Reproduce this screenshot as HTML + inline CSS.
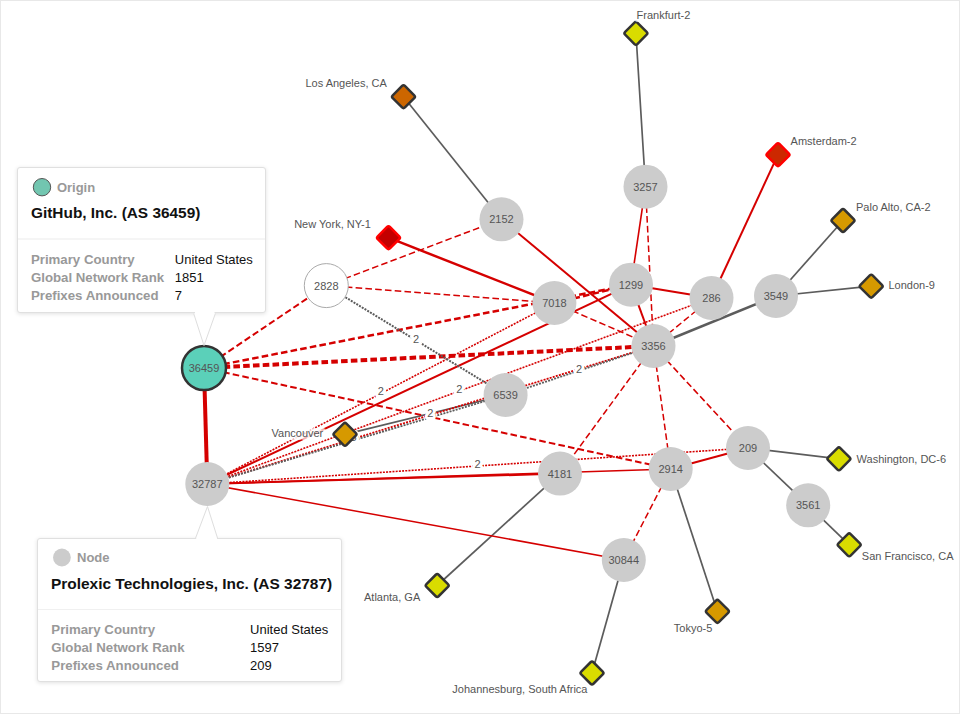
<!DOCTYPE html>
<html><head><meta charset="utf-8"><style>
html,body{margin:0;padding:0;background:#fff;}
body{width:960px;height:714px;overflow:hidden;position:relative;font-family:"Liberation Sans",sans-serif;}
.frame{position:absolute;left:0;top:0;width:958px;height:712px;border:1px solid #e8e8e8;}
svg{position:absolute;left:0;top:0;}
.tip{position:absolute;box-sizing:border-box;background:#fff;border:1px solid #e0e0e0;border-radius:3px;box-shadow:0 1px 4px rgba(0,0,0,0.12);}
.tip .t{position:absolute;white-space:nowrap;line-height:1;}
.k{font-weight:bold;color:#999;font-size:13px;}
.v{color:#111;font-size:13px;}
.h{font-weight:bold;color:#111;font-size:15.3px;}
.sep{position:absolute;left:0;right:0;height:1px;background:#ececec;}
</style></head><body>
<div class="frame"></div>
<svg width="960" height="714" viewBox="0 0 960 714">

<g fill="none" stroke-linecap="butt">
<line x1="635.9" y1="33.3" x2="645.5" y2="186.7" stroke="#5c5c5c" stroke-width="1.7"/>
<line x1="403.5" y1="96.7" x2="501.5" y2="219.3" stroke="#5c5c5c" stroke-width="1.7"/>
<line x1="843" y1="220.5" x2="776" y2="296" stroke="#5c5c5c" stroke-width="1.7"/>
<line x1="871.2" y1="286.2" x2="776" y2="296" stroke="#5c5c5c" stroke-width="1.7"/>
<line x1="776" y1="296" x2="653.5" y2="346" stroke="#5c5c5c" stroke-width="2.5"/>
<line x1="838.9" y1="458.8" x2="748" y2="448" stroke="#5c5c5c" stroke-width="1.7"/>
<line x1="748" y1="448" x2="808.2" y2="505.3" stroke="#5c5c5c" stroke-width="1.7"/>
<line x1="808.2" y1="505.3" x2="849.2" y2="544.8" stroke="#5c5c5c" stroke-width="1.7"/>
<line x1="560" y1="473.6" x2="437.2" y2="585.5" stroke="#5c5c5c" stroke-width="1.7"/>
<line x1="670.7" y1="469" x2="717.4" y2="611.4" stroke="#5c5c5c" stroke-width="1.7"/>
<line x1="623.8" y1="560" x2="592" y2="673" stroke="#5c5c5c" stroke-width="1.7"/>
<line x1="345" y1="434.3" x2="505.6" y2="395" stroke="#5c5c5c" stroke-width="1.7"/>
<line x1="204" y1="368" x2="207.3" y2="484" stroke="#d50000" stroke-width="4"/>
<line x1="388.5" y1="237.7" x2="554.4" y2="303" stroke="#d50000" stroke-width="2.5"/>
<line x1="778" y1="154.7" x2="711.5" y2="298" stroke="#d50000" stroke-width="2"/>
<line x1="501.5" y1="219.3" x2="653.5" y2="346" stroke="#d50000" stroke-width="2"/>
<line x1="645.5" y1="186.7" x2="631" y2="284.7" stroke="#d50000" stroke-width="1.6"/>
<line x1="631" y1="284.7" x2="653.5" y2="346" stroke="#d50000" stroke-width="2"/>
<line x1="631" y1="284.7" x2="711.5" y2="298" stroke="#d50000" stroke-width="2"/>
<line x1="207.3" y1="484" x2="631" y2="284.7" stroke="#d50000" stroke-width="2"/>
<line x1="207.3" y1="484" x2="560" y2="473.6" stroke="#d50000" stroke-width="2"/>
<line x1="207.3" y1="484" x2="670.7" y2="469" stroke="#d50000" stroke-width="1.7"/>
<line x1="670.7" y1="469" x2="748" y2="448" stroke="#d50000" stroke-width="2"/>
<line x1="207.3" y1="484" x2="623.8" y2="560" stroke="#d50000" stroke-width="1.5"/>
<line x1="204" y1="368" x2="326.3" y2="285.6" stroke="#d50000" stroke-width="2" stroke-dasharray="6.6,3.2"/>
<line x1="326.3" y1="285.6" x2="501.5" y2="219.3" stroke="#d50000" stroke-width="1.5" stroke-dasharray="6.6,3.2"/>
<line x1="326.3" y1="285.6" x2="554.4" y2="303" stroke="#d50000" stroke-width="1.5" stroke-dasharray="6.6,3.2"/>
<line x1="204" y1="368" x2="631" y2="284.7" stroke="#d50000" stroke-width="2.5" stroke-dasharray="6.6,3.2"/>
<line x1="554.4" y1="303" x2="631" y2="284.7" stroke="#d50000" stroke-width="2.5" stroke-dasharray="6.6,3.2"/>
<line x1="204" y1="368" x2="653.5" y2="346" stroke="#d50000" stroke-width="4" stroke-dasharray="6.6,3.2"/>
<line x1="204" y1="368" x2="670.7" y2="469" stroke="#d50000" stroke-width="2" stroke-dasharray="6.6,3.2"/>
<line x1="554.4" y1="303" x2="653.5" y2="346" stroke="#d50000" stroke-width="1.5" stroke-dasharray="6.6,3.2"/>
<line x1="645.5" y1="186.7" x2="653.5" y2="346" stroke="#d50000" stroke-width="1.5" stroke-dasharray="6.6,3.2"/>
<line x1="711.5" y1="298" x2="653.5" y2="346" stroke="#d50000" stroke-width="1.5" stroke-dasharray="6.6,3.2"/>
<line x1="653.5" y1="346" x2="560" y2="473.6" stroke="#d50000" stroke-width="1.5" stroke-dasharray="6.6,3.2"/>
<line x1="653.5" y1="346" x2="670.7" y2="469" stroke="#d50000" stroke-width="1.5" stroke-dasharray="6.6,3.2"/>
<line x1="653.5" y1="346" x2="748" y2="448" stroke="#d50000" stroke-width="1.6" stroke-dasharray="6.6,3.2"/>
<line x1="670.7" y1="469" x2="623.8" y2="560" stroke="#d50000" stroke-width="1.5" stroke-dasharray="6.6,3.2"/>
<line x1="207.3" y1="484" x2="554.4" y2="303" stroke="#d50000" stroke-width="1.6" stroke-dasharray="2,1.2"/>
<line x1="207.3" y1="484" x2="711.5" y2="298" stroke="#d50000" stroke-width="1.6" stroke-dasharray="2,1.2"/>
<line x1="207.3" y1="484" x2="748" y2="448" stroke="#d50000" stroke-width="1.6" stroke-dasharray="2,1.2"/>
<line x1="207.3" y1="484" x2="653.5" y2="346" stroke="#d50000" stroke-width="1.8" stroke-dasharray="2,1.2"/>
<line x1="207.3" y1="484" x2="505.6" y2="395" stroke="#5c5c5c" stroke-width="1.8" stroke-dasharray="2,1.2"/>
<line x1="505.6" y1="395" x2="653.5" y2="346" stroke="#5c5c5c" stroke-width="1.8" stroke-dasharray="2,1.2"/>
<line x1="326.3" y1="285.6" x2="505.6" y2="395" stroke="#5c5c5c" stroke-width="2" stroke-dasharray="2,1.2"/>
</g>
<g font-family="Liberation Sans, sans-serif" font-size="11" fill="#555" text-anchor="middle">
<text x="380.9" y="395.0" stroke="#fff" stroke-width="6" stroke-linejoin="round" paint-order="stroke">2</text>
<text x="459.4" y="392.5" stroke="#fff" stroke-width="6" stroke-linejoin="round" paint-order="stroke">2</text>
<text x="477.6" y="467.5" stroke="#fff" stroke-width="6" stroke-linejoin="round" paint-order="stroke">2</text>
<text x="430.4" y="416.5" stroke="#fff" stroke-width="6" stroke-linejoin="round" paint-order="stroke">2</text>
<text x="579.0" y="373.0" stroke="#fff" stroke-width="6" stroke-linejoin="round" paint-order="stroke">2</text>
<text x="416.0" y="343.1" stroke="#fff" stroke-width="6" stroke-linejoin="round" paint-order="stroke">2</text>
<text x="353.5" y="441.0" stroke="#fff" stroke-width="6" stroke-linejoin="round" paint-order="stroke">3</text>
</g>
<circle cx="204" cy="368" r="22" fill="#5bd0b9" stroke="#333" stroke-width="2.5"/>
<circle cx="207.3" cy="484" r="22" fill="#cccccc"/>
<circle cx="326.3" cy="285.6" r="22" fill="#fff" stroke="#aaa" stroke-width="1"/>
<circle cx="501.5" cy="219.3" r="22" fill="#cccccc"/>
<circle cx="554.4" cy="303" r="22" fill="#cccccc"/>
<circle cx="645.5" cy="186.7" r="22" fill="#cccccc"/>
<circle cx="631" cy="284.7" r="22" fill="#cccccc"/>
<circle cx="711.5" cy="298" r="22" fill="#cccccc"/>
<circle cx="653.5" cy="346" r="22" fill="#cccccc"/>
<circle cx="776" cy="296" r="22" fill="#cccccc"/>
<circle cx="505.6" cy="395" r="22" fill="#cccccc"/>
<circle cx="560" cy="473.6" r="22" fill="#cccccc"/>
<circle cx="670.7" cy="469" r="22" fill="#cccccc"/>
<circle cx="623.8" cy="560" r="22" fill="#cccccc"/>
<circle cx="748" cy="448" r="22" fill="#cccccc"/>
<circle cx="808.2" cy="505.3" r="22" fill="#cccccc"/>
<g font-family="Liberation Sans, sans-serif" font-size="11" fill="#555" text-anchor="middle">
<text x="204" y="372">36459</text>
<text x="207.3" y="488">32787</text>
<text x="326.3" y="289.6">2828</text>
<text x="501.5" y="223.3">2152</text>
<text x="554.4" y="307">7018</text>
<text x="645.5" y="190.7">3257</text>
<text x="631" y="288.7">1299</text>
<text x="711.5" y="302">286</text>
<text x="653.5" y="350">3356</text>
<text x="776" y="300">3549</text>
<text x="505.6" y="399">6539</text>
<text x="560" y="477.6">4181</text>
<text x="670.7" y="473">2914</text>
<text x="623.8" y="564">30844</text>
<text x="748" y="452">209</text>
<text x="808.2" y="509.3">3561</text>
</g>
<rect x="-8.6" y="-8.6" width="17.2" height="17.2" rx="2" transform="translate(635.9,33.3) rotate(45)" fill="#d9dc00" stroke="#333" stroke-width="2.5"/>
<rect x="-8.6" y="-8.6" width="17.2" height="17.2" rx="2" transform="translate(403.5,96.7) rotate(45)" fill="#cc6600" stroke="#333" stroke-width="2.5"/>
<rect x="-8.6" y="-8.6" width="17.2" height="17.2" rx="2" transform="translate(778,154.7) rotate(45)" fill="#cc2800" stroke="#f00" stroke-width="2.5"/>
<rect x="-8.6" y="-8.6" width="17.2" height="17.2" rx="2" transform="translate(843,220.5) rotate(45)" fill="#d69900" stroke="#333" stroke-width="2.5"/>
<rect x="-8.6" y="-8.6" width="17.2" height="17.2" rx="2" transform="translate(871.2,286.2) rotate(45)" fill="#d69900" stroke="#333" stroke-width="2.5"/>
<rect x="-8.6" y="-8.6" width="17.2" height="17.2" rx="2" transform="translate(388.5,237.7) rotate(45)" fill="#c30000" stroke="#f00" stroke-width="2.5"/>
<rect x="-8.6" y="-8.6" width="17.2" height="17.2" rx="2" transform="translate(345,434.3) rotate(45)" fill="#d69900" stroke="#333" stroke-width="2.5"/>
<rect x="-8.6" y="-8.6" width="17.2" height="17.2" rx="2" transform="translate(838.9,458.8) rotate(45)" fill="#d9dc00" stroke="#333" stroke-width="2.5"/>
<rect x="-8.6" y="-8.6" width="17.2" height="17.2" rx="2" transform="translate(849.2,544.8) rotate(45)" fill="#d9dc00" stroke="#333" stroke-width="2.5"/>
<rect x="-8.6" y="-8.6" width="17.2" height="17.2" rx="2" transform="translate(437.2,585.5) rotate(45)" fill="#d9dc00" stroke="#333" stroke-width="2.5"/>
<rect x="-8.6" y="-8.6" width="17.2" height="17.2" rx="2" transform="translate(717.4,611.4) rotate(45)" fill="#d69900" stroke="#333" stroke-width="2.5"/>
<rect x="-8.6" y="-8.6" width="17.2" height="17.2" rx="2" transform="translate(592,673) rotate(45)" fill="#d9dc00" stroke="#333" stroke-width="2.5"/>
<g font-family="Liberation Sans, sans-serif" font-size="11" fill="#555">
<text x="636.6" y="18.7" text-anchor="start" stroke="rgba(255,255,255,0.7)" stroke-width="6" stroke-linejoin="round" paint-order="stroke">Frankfurt-2</text>
<text x="386.8" y="86.7" text-anchor="end" stroke="rgba(255,255,255,0.7)" stroke-width="6" stroke-linejoin="round" paint-order="stroke">Los Angeles, CA</text>
<text x="790.6" y="144.75" text-anchor="start" stroke="rgba(255,255,255,0.7)" stroke-width="6" stroke-linejoin="round" paint-order="stroke">Amsterdam-2</text>
<text x="856" y="210.6" text-anchor="start" stroke="rgba(255,255,255,0.7)" stroke-width="6" stroke-linejoin="round" paint-order="stroke">Palo Alto, CA-2</text>
<text x="888.5" y="289.4" text-anchor="start" stroke="rgba(255,255,255,0.7)" stroke-width="6" stroke-linejoin="round" paint-order="stroke">London-9</text>
<text x="370.8" y="227.75" text-anchor="end" stroke="rgba(255,255,255,0.7)" stroke-width="6" stroke-linejoin="round" paint-order="stroke">New York, NY-1</text>
<text x="323.3" y="436.5" text-anchor="end" stroke="rgba(255,255,255,0.7)" stroke-width="6" stroke-linejoin="round" paint-order="stroke">Vancouver</text>
<text x="856.6" y="462.9" text-anchor="start" stroke="rgba(255,255,255,0.7)" stroke-width="6" stroke-linejoin="round" paint-order="stroke">Washington, DC-6</text>
<text x="861.8" y="559.7" text-anchor="start" stroke="rgba(255,255,255,0.7)" stroke-width="6" stroke-linejoin="round" paint-order="stroke">San Francisco, CA</text>
<text x="420.25" y="601" text-anchor="end" stroke="rgba(255,255,255,0.7)" stroke-width="6" stroke-linejoin="round" paint-order="stroke">Atlanta, GA</text>
<text x="712.3" y="631.7" text-anchor="end" stroke="rgba(255,255,255,0.7)" stroke-width="6" stroke-linejoin="round" paint-order="stroke">Tokyo-5</text>
<text x="587.5" y="693" text-anchor="end" stroke="rgba(255,255,255,0.7)" stroke-width="6" stroke-linejoin="round" paint-order="stroke">Johannesburg, South Africa</text>
</g>
</svg>
<div class="tip" style="left:17px;top:167px;width:249px;height:146px;"></div>
<div class="tip" style="left:37px;top:538px;width:305px;height:144px;"></div>
<svg width="960" height="714" viewBox="0 0 960 714" style="position:absolute;left:0;top:0;">
<path d="M193.7,313.5 L204,345.5 L215.4,313.5" fill="#fff" stroke="#dedede" stroke-width="1"/>
<path d="M195.6,538 L207.5,506.5 L217.5,538" fill="#fff" stroke="#dedede" stroke-width="1"/>
<rect x="195" y="308" width="19.5" height="6" fill="#fff"/>
<rect x="196.2" y="538" width="20.8" height="4" fill="#fff"/>
<rect x="18" y="238.5" width="247" height="1" fill="#ebebeb"/>
<rect x="38" y="609" width="303" height="1" fill="#f0f0f0"/>
<circle cx="42" cy="187.2" r="8.7" fill="#72c6b0" stroke="#555" stroke-width="1"/>
<circle cx="61.9" cy="557.5" r="8.9" fill="#cccccc"/>
<g font-family="Liberation Sans, sans-serif">
<text x="56.9" y="191.9" font-size="13" font-weight="bold" fill="#999">Origin</text>
<text x="31" y="217.5" font-size="15.4" font-weight="bold" fill="#111">GitHub, Inc. (AS 36459)</text>
<text x="30.9" y="263.6" font-size="13.25" font-weight="bold" fill="#999">Primary Country</text>
<text x="174.8" y="263.6" font-size="13" font-weight="normal" fill="#111">United States</text>
<text x="30.9" y="281.6" font-size="13.25" font-weight="bold" fill="#999">Global Network Rank</text>
<text x="174.8" y="281.6" font-size="13" font-weight="normal" fill="#111">1851</text>
<text x="30.9" y="299.6" font-size="13.25" font-weight="bold" fill="#999">Prefixes Announced</text>
<text x="174.8" y="299.6" font-size="13" font-weight="normal" fill="#111">7</text>
<text x="77" y="562.2" font-size="13" font-weight="bold" fill="#999">Node</text>
<text x="51" y="588.7" font-size="15.45" font-weight="bold" fill="#111">Prolexic Technologies, Inc. (AS 32787)</text>
<text x="51.3" y="633.6" font-size="13.25" font-weight="bold" fill="#999">Primary Country</text>
<text x="250.1" y="633.6" font-size="13" font-weight="normal" fill="#111">United States</text>
<text x="51.3" y="651.6" font-size="13.25" font-weight="bold" fill="#999">Global Network Rank</text>
<text x="250.1" y="651.6" font-size="13" font-weight="normal" fill="#111">1597</text>
<text x="51.3" y="669.6" font-size="13.25" font-weight="bold" fill="#999">Prefixes Announced</text>
<text x="250.1" y="669.6" font-size="13" font-weight="normal" fill="#111">209</text>
</g></svg>
</body></html>
